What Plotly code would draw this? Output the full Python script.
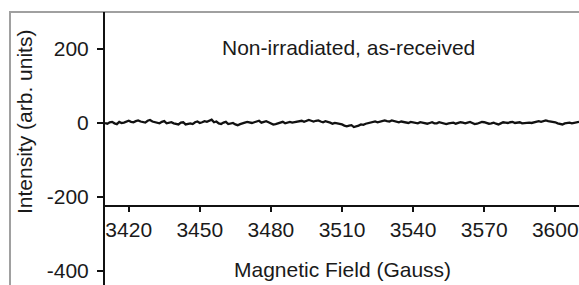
import plotly.graph_objects as go

field_start = 3410
field_step = 1
intensity = [0, -2, 2, 3, -1, -3, 3, 0, 1, 4, 6, 3, 2, 5, 7, 4, 3, 1, 6, 8,
             4, 2, 1, -1, 3, 5, -1, 0, 2, -1, -2, -4, 1, 2, -4, -2, -1, -3, 2, 4,
             0, 2, 5, 3, 7, 9, 2, 4, -1, -3, 1, 3, -3, -1, 0, -4, -6, -3, -2, 1,
             3, 1, 0, 2, 4, 6, 1, 3, 5, 2, -1, -4, -3, -1, 1, 3, -1, 0, 3, 1,
             2, 4, 5, 6, 3, 5, 8, 6, 4, 6, 7, 4, 2, 5, 4, 1, -2, 0, -1, -2,
             -4, -7, -9, -7, -6, -11, -10, -7, -4, -5, -2, -1, 1, 3, 4, 2, 3, 5, 7, 5,
             4, 7, 6, 3, 2, 4, 3, 1, 0, 3, 2, 0, -1, 2, 1, -1, -2, 0, 2, -1,
             -1, 2, 1, -1, -3, -1, 0, 1, -2, 0, 2, 1, -1, 1, 3, 0, -3, -2, 0, 3,
             2, 0, -2, -1, 1, -2, -4, -1, 2, 1, 0, 2, 3, 0, 1, 2, -1, 0, 2, 1,
             0, 2, 4, 5, 3, 6, 7, 5, 4, 5, 2, -1, -3, -4, -1, 0, 1, -1, 0, 2,
             3]
field = [field_start + field_step * i for i in range(len(intensity))]

x_ticks = [3420, 3450, 3480, 3510, 3540, 3570, 3600]
y_ticks = [200, 0, -200, -400]
x_range = [3410, 3610]
y_range = [-438, 300]
x_cross = -225

label_text = "Non-irradiated, as-received"
x_title = "Magnetic Field (Gauss)"
y_title = "Intensity (arb. units)"

FONT = "Liberation Sans, Arial, sans-serif"
FS = 21
W, H = 579, 285
ML, MT = 105, 12
PW, PH = W - ML, H - MT

fig = go.Figure()
fig.add_trace(go.Scatter(x=field, y=intensity, mode="lines",
                         line=dict(color="#111111", width=2.3), showlegend=False,
                         hoverinfo="skip"))

pos = (x_cross - y_range[0]) / (y_range[1] - y_range[0])

fig.update_layout(
    width=W, height=H,
    margin=dict(l=ML, r=0, t=MT, b=0, pad=0),
    paper_bgcolor="white", plot_bgcolor="white",
    font=dict(family=FONT, size=FS, color="#1a1a1a"),
    xaxis=dict(range=x_range, tickvals=x_ticks, ticktext=[str(v) for v in x_ticks],
               showgrid=False, zeroline=False, showline=True, linecolor="#111111",
               linewidth=2, ticks="outside", ticklen=5, tickwidth=1.5,
               tickcolor="#111111", anchor="free", position=pos,
               tickfont=dict(size=FS)),
    yaxis=dict(range=y_range, tickvals=y_ticks, ticktext=[str(v) for v in y_ticks],
               showgrid=False, zeroline=False, showline=True, linecolor="#111111",
               linewidth=2, ticks="outside", ticklen=6, tickwidth=1.5,
               tickcolor="#111111", tickfont=dict(size=FS), ticklabelstandoff=4),
)

fig.add_shape(type="rect", xref="paper", yref="paper",
              x0=(10 - ML) / PW, x1=1.05, y0=-0.1, y1=1.0,
              line=dict(color="#a0a0a0", width=2), layer="below")

fig.add_annotation(text=label_text, xref="paper", yref="paper",
                   x=(348.5 - ML) / PW, y=(H - 47) / PH,
                   xanchor="center", yanchor="middle", showarrow=False,
                   font=dict(size=FS))
fig.add_annotation(text=x_title, xref="paper", yref="paper",
                   x=(342 - ML) / PW, y=(H - 269) / PH,
                   xanchor="center", yanchor="middle", showarrow=False,
                   font=dict(size=FS))
fig.add_annotation(text=y_title, xref="paper", yref="paper",
                   x=(24 - ML) / PW, y=(H - 122) / PH, textangle=-90,
                   xanchor="center", yanchor="middle", showarrow=False,
                   font=dict(size=FS))

fig.write_html("out.html", config={"displayModeBar": False},
               post_script="document.body.style.margin='0px';document.body.style.overflow='hidden';")
